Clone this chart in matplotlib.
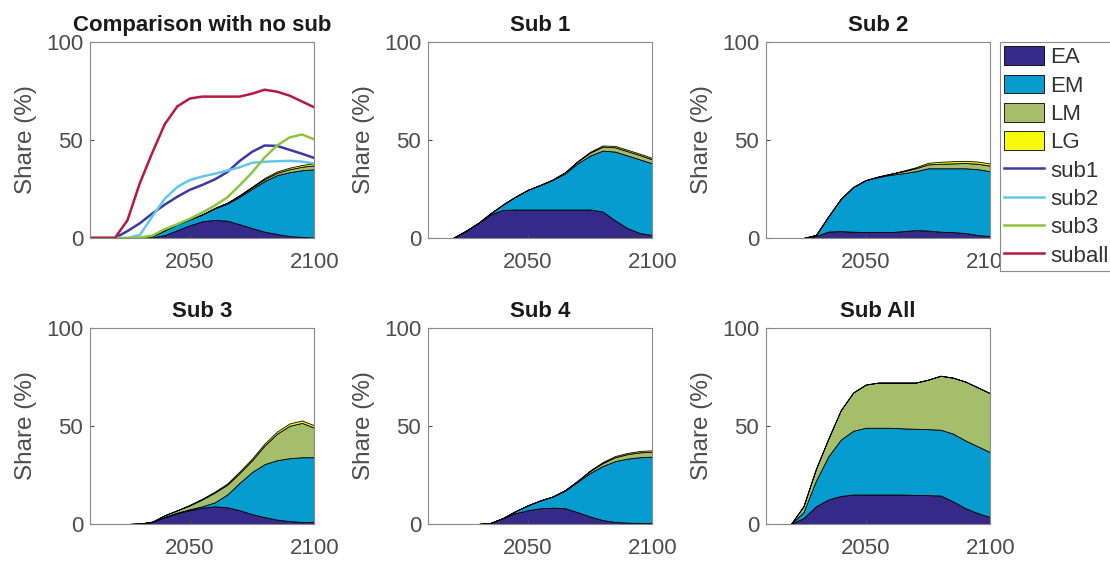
import numpy as np
import matplotlib.pyplot as plt
from matplotlib.patches import Patch
from matplotlib.lines import Line2D

plt.rcParams['font.family'] = ['Liberation Sans', 'DejaVu Sans']

years = np.arange(2010, 2101, 5)

# no-sub baseline (areas in the first panel)
ea0 = [0, 0, 0, 0, 0, 0.3, 1.5, 4, 6.5, 8.5, 9.2, 8.8, 7, 5, 3.2, 2, 1, 0.5, 0.2]
em0 = [0, 0, 0, 0, 0.2, 0.7, 2.5, 3, 3, 3.5, 5.8, 8.7, 14, 20, 25.8, 30, 32.5, 34, 34.8]
lm0 = [0, 0, 0, 0, 0, 0, 0, 0, 0, 0, 0.3, 0.4, 0.6, 0.8, 1, 1.2, 1.5, 1.8, 2]
lg0 = [0, 0, 0, 0, 0, 0, 0, 0, 0, 0, 0, 0, 0.3, 0.4, 0.6, 0.7, 0.8, 0.9, 1]

# sub 1
ea1 = [0, 0, 0, 3.5, 7.5, 12, 14.3, 14.5, 14.5, 14.5, 14.5, 14.5, 14.5, 14.5, 13.5, 9, 5, 2.5, 1.5]
em1 = [0, 0, 0, 0, 0, 0.5, 2.7, 6.5, 10, 12.5, 15, 18.5, 23.5, 27.5, 31, 35, 37, 37.5, 36.5]
lm1 = [0, 0, 0, 0, 0, 0, 0, 0, 0, 0, 0.3, 0.5, 1, 1.5, 2, 2.2, 2.2, 2.2, 2]
lg1 = [0, 0, 0, 0, 0, 0, 0, 0, 0, 0, 0, 0, 0.2, 0.4, 0.6, 0.7, 0.7, 0.7, 0.7]

# sub 2
ea2 = [0, 0, 0, 0, 1, 3.3, 3.5, 3.2, 3, 3, 3, 3.5, 4, 3.8, 3.2, 3, 2.5, 1.5, 1]
em2 = [0, 0, 0, 0, 0.5, 7.7, 16.5, 22.8, 26.5, 28, 29.2, 29.5, 30, 31.7, 32.3, 32.5, 33, 33.5, 33]
lm2 = [0, 0, 0, 0, 0, 0, 0, 0, 0, 0.3, 0.5, 1, 1.5, 2, 2.3, 2.5, 2.7, 2.8, 2.8]
lg2 = [0, 0, 0, 0, 0, 0, 0, 0, 0, 0, 0, 0.3, 0.5, 0.8, 1, 1.1, 1.1, 1.1, 1.1]

# sub 3
ea3 = [0, 0, 0, 0, 0.2, 1, 3.5, 5.5, 7, 8.3, 9, 8.5, 7, 5, 3.5, 2.2, 1.5, 1, 1]
em3 = [0, 0, 0, 0, 0, 0, 0.2, 0.3, 0.5, 0.7, 2, 6.5, 14, 21.5, 27, 30.3, 32, 33, 33]
lm3 = [0, 0, 0, 0, 0, 0.2, 0.8, 1.2, 2, 3.5, 5, 5, 5, 6, 9.5, 13.5, 16.5, 17.5, 15]
lg3 = [0, 0, 0, 0, 0, 0, 0, 0, 0.3, 0.4, 0.5, 0.6, 0.8, 0.9, 1, 1.1, 1.2, 1.2, 1.2]

# sub 4
ea4 = [0, 0, 0, 0, 0, 0.5, 3, 5.5, 7, 8, 8.3, 8, 6, 3.8, 2, 1, 0.7, 0.5, 0.5]
em4 = [0, 0, 0, 0, 0, 0, 0, 1, 2.5, 4, 5.7, 9, 15.5, 22.2, 27.5, 31, 32.6, 33.5, 33.8]
lm4 = [0, 0, 0, 0, 0, 0, 0, 0, 0, 0, 0, 0.3, 0.5, 1, 1.5, 2, 2.3, 2.5, 2.5]
lg4 = [0, 0, 0, 0, 0, 0, 0, 0, 0, 0, 0, 0, 0, 0.3, 0.5, 0.6, 0.6, 0.7, 0.7]

# sub all
eaa = [0, 0, 0, 3, 9, 12.5, 14.3, 15, 15, 15, 15, 15, 14.8, 14.7, 14.5, 11.5, 8, 5.5, 3.5]
ema = [0, 0, 0, 3, 13, 22, 28.7, 32.5, 34, 34, 34, 33.7, 33.7, 33.6, 33.5, 34.5, 34.5, 34, 33]
lma = [0, 0, 0, 3, 6, 9, 15, 19.5, 22, 23, 23, 23.3, 23.5, 25.2, 27.5, 28.5, 30, 30, 30]
lga = [0] * 19

titles = ['Comparison with no sub', 'Sub 1', 'Sub 2', 'Sub 3', 'Sub 4', 'Sub All']
stacks = [(ea0, em0, lm0, lg0), (ea1, em1, lm1, lg1), (ea2, em2, lm2, lg2),
          (ea3, em3, lm3, lg3), (ea4, em4, lm4, lg4), (eaa, ema, lma, lga)]
area_names = ['EA', 'EM', 'LM', 'LG']
area_cols = ['#352a87', '#079ccf', '#a5be6b', '#f9fb0e']
line_names = ['sub1', 'sub2', 'sub3', 'suball']
line_cols = ['#3a3aa8', '#62c6ec', '#8cc63e', '#b8173f']

fig = plt.figure(figsize=(11.1, 5.61), dpi=100)
lefts = [0.0811, 0.3856, 0.6901]
bottoms = [0.5758, 0.0660]
w, h = 0.2022, 0.350

axes = []
for r in range(2):
    for c in range(3):
        axes.append(fig.add_axes([lefts[c], bottoms[r], w, h]))

for i, ax in enumerate(axes):
    ax.stackplot(years, *stacks[i], colors=area_cols, edgecolor='k', linewidth=0.6)
    if i == 0:
        # lines are the totals of each substitution scenario
        for j, k in enumerate([1, 2, 3, 5]):
            tot = np.sum(np.array(stacks[k]), axis=0)
            ax.plot(years, tot, color=line_cols[j], lw=1.8)
    ax.set_xlim(2010, 2100)
    ax.set_ylim(0, 100)
    ax.set_xticks([2050, 2100])
    ax.set_yticks([0, 50, 100])
    ax.tick_params(direction='in', length=3, labelsize=16, colors='#4d4d4d', pad=5)
    ax.tick_params(axis='x', pad=10)
    for s in ax.spines.values():
        s.set_color('#8a8a8a')
        s.set_linewidth(0.8)
    ax.set_title(titles[i], fontsize=16, fontweight='bold', color='#1a1a1a', pad=8)
    ax.set_ylabel('Share (%)', fontsize=17.5, color='#4d4d4d', labelpad=6)

handles = [Patch(facecolor=area_cols[k], edgecolor='k', lw=0.6) for k in range(4)]
handles += [Line2D([0], [0], color=line_cols[k], lw=1.8) for k in range(4)]
leg = fig.legend(handles, area_names + line_names, loc='upper left',
                 bbox_to_anchor=(0.9009, 0.9251), fontsize=16, frameon=True,
                 fancybox=False, edgecolor='#8a8a8a', framealpha=1,
                 handlelength=1.8, handleheight=0.9, handletextpad=0.25,
                 labelspacing=0.29, borderpad=0.2, borderaxespad=0)
leg.get_frame().set_linewidth(0.8)
for t in leg.get_texts():
    t.set_color('#333333')

fig.savefig('out.png', dpi=100)
